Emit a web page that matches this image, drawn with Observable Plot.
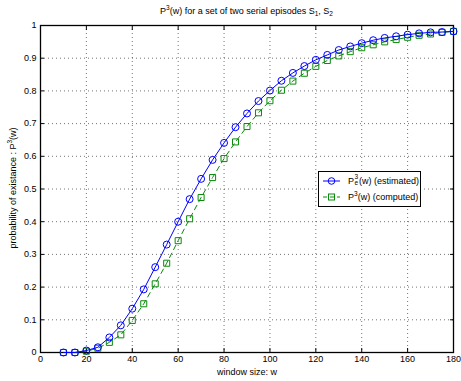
<!DOCTYPE html>
<html><head><meta charset="utf-8">
<script src="https://cdn.jsdelivr.net/npm/d3@7"></script>
<script src="https://cdn.jsdelivr.net/npm/@observablehq/plot@0.6"></script>
<style>
body{margin:0;background:#fff;}
#fig{position:relative;width:461px;height:381px;font-family:"Liberation Sans",Arial,Helvetica,sans-serif;font-size:9px;color:#000;background:#fff;overflow:hidden;}
#fig svg{position:absolute;left:0;top:0;}
.sup{font-size:6.5px;position:relative;top:-4px;}
.sub{font-size:6.5px;position:relative;top:2px;}
#title{position:absolute;left:246.5px;top:6px;transform:translateX(-50%);white-space:nowrap;}
#ylab{position:absolute;left:13px;top:188px;transform:translate(-50%,-50%) rotate(-90deg);white-space:nowrap;}
#legend{position:absolute;left:318px;top:171px;width:103px;height:36px;border:1px solid #000;background:#fff;box-sizing:border-box;}
.row{position:absolute;left:0;height:14px;display:flex;align-items:center;white-space:nowrap;}
.row svg{position:static !important;margin-left:4px;margin-right:8px;}
.stack{display:inline-block;position:relative;width:5px;height:10px;vertical-align:middle;}
</style>
</head><body><div id="fig"></div>
<script>
const windowSize = [10,15,20,25,30,35,40,45,50,55,60,65,70,75,80,85,90,95,100,105,110,115,120,125,130,135,140,145,150,155,160,165,170,175,180];
const estimated = [0,0,0.006,0.016,0.046,0.083,0.134,0.193,0.261,0.330,0.400,0.469,0.531,0.589,0.641,0.689,0.731,0.769,0.801,0.831,0.855,0.876,0.895,0.910,0.925,0.936,0.946,0.955,0.962,0.967,0.972,0.976,0.979,0.980,0.982];
const computed = [0,0,0.004,0.013,0.031,0.054,0.098,0.149,0.210,0.273,0.342,0.409,0.474,0.535,0.593,0.644,0.691,0.733,0.770,0.802,0.830,0.854,0.875,0.893,0.907,0.920,0.932,0.941,0.950,0.957,0.964,0.970,0.974,0.979,0.982];
const xTicks = [0,20,40,60,80,100,120,140,160,180];
const yTicks = [0,0.1,0.2,0.3,0.4,0.5,0.6,0.7,0.8,0.9,1];
const yTickLabels = ["0","0.1","0.2","0.3","0.4","0.5","0.6","0.7","0.8","0.9","1"];
const blue = "#0000ff", green = "#0a8a0a";

const rows = windowSize.map((w, i) => ({w, est: estimated[i], comp: computed[i]}));
const grid = {stroke: "#000", strokeOpacity: 0.55, strokeDasharray: "1,3"};

const chart = Plot.plot({
  width: 461, height: 381,
  marginLeft: 40, marginRight: 8, marginTop: 25, marginBottom: 29,
  style: {fontFamily: "Liberation Sans, Arial, Helvetica, sans-serif", fontSize: "9px", background: "transparent", overflow: "visible"},
  x: {domain: [0, 180]},
  y: {domain: [0, 1]},
  marks: [
    Plot.ruleX(xTicks.slice(1, -1), grid),
    Plot.ruleY(yTicks.slice(1, -1), grid),
    Plot.axisX(xTicks, {anchor: "bottom", tickSize: -4, tickPadding: 7, label: "window size: w", labelAnchor: "center", labelArrow: "none", labelOffset: 22}),
    Plot.axisX(xTicks, {anchor: "top", tickSize: -4, tickFormat: () => "", label: null}),
    Plot.axisY(yTicks, {anchor: "left", tickSize: -4, tickPadding: 8, tickFormat: (d, i) => yTickLabels[i], label: null}),
    Plot.axisY(yTicks, {anchor: "right", tickSize: -4, tickFormat: () => "", label: null}),
    Plot.frame({stroke: "#000", strokeWidth: 1.3}),
    Plot.line(rows, {x: "w", y: "comp", stroke: green, strokeWidth: 1, strokeDasharray: "5,4"}),
    Plot.dot(rows, {x: "w", y: "comp", symbol: "square", r: 3.4, stroke: green, fill: "none", strokeWidth: 1}),
    Plot.line(rows, {x: "w", y: "est", stroke: blue, strokeWidth: 1}),
    Plot.dot(rows, {x: "w", y: "est", symbol: "circle", r: 3.5, stroke: blue, fill: "none", strokeWidth: 1})
  ]
});

const fig = document.getElementById("fig");
fig.appendChild(chart);

const title = document.createElement("div");
title.id = "title";
title.innerHTML = 'P<span class="sup">3</span>(w) for a set of two serial episodes S<span class="sub">1</span>, S<span class="sub">2</span>';
fig.appendChild(title);

const ylab = document.createElement("div");
ylab.id = "ylab";
ylab.innerHTML = 'probability of existance : P<span class="sup">3</span>(w)';
fig.appendChild(ylab);

const legend = document.createElement("div");
legend.id = "legend";
legend.innerHTML =
  '<div class="row" style="top:2px"><svg width="17" height="10"><line x1="0" y1="5" x2="17" y2="5" stroke="' + blue + '"/><circle cx="8.5" cy="5" r="3.3" fill="none" stroke="' + blue + '"/></svg>' +
  'P<span class="stack"><span style="position:absolute;left:0.5px;top:-3px;font-size:6.5px">3</span><span style="position:absolute;left:0.5px;top:3px;font-size:6.5px">e</span></span>(w) (estimated)</div>' +
  '<div class="row" style="top:18px"><svg width="17" height="10"><line x1="0" y1="5" x2="17" y2="5" stroke="' + green + '" stroke-dasharray="4,3"/><rect x="5.5" y="2" width="6" height="6" fill="none" stroke="' + green + '"/></svg>' +
  'P<span class="sup">3</span>(w) (computed)</div>';
fig.appendChild(legend);
</script>
</body></html>
